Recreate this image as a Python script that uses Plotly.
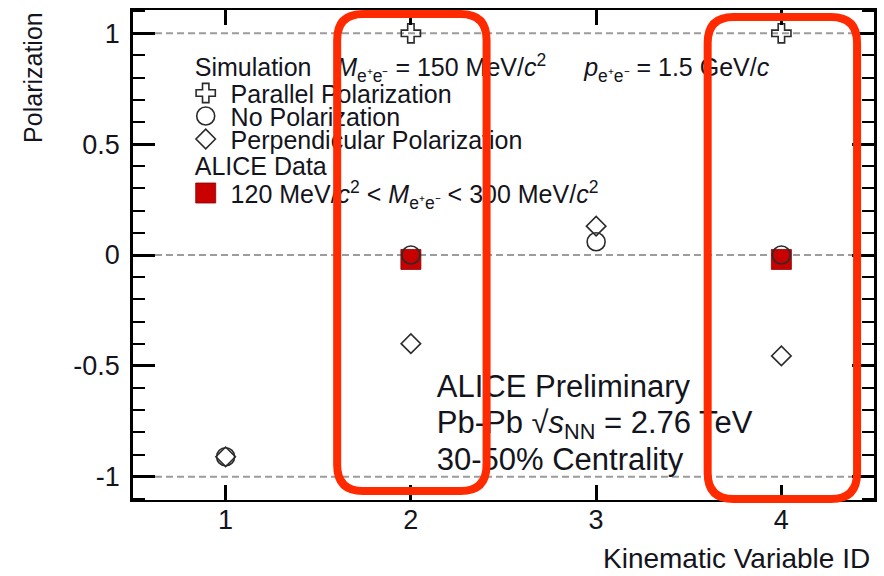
import plotly.graph_objects as go

# ---- data -------------------------------------------------------------
kin_ids = [1, 2, 3, 4]
parallel_pol = [None, 1.0, None, 1.0]
no_pol = [-0.91, 0.0, 0.06, 0.0]
perp_pol = [-0.91, -0.40, 0.13, -0.455]

alice_ids = [2, 4]
alice_pol = [-0.02, -0.02]

y_tick_vals = [-1, -0.5, 0, 0.5, 1]
y_tick_text = ["-1", "-0.5", "0", "0.5", "1"]
x_tick_vals = [1, 2, 3, 4]
x_tick_text = ["1", "2", "3", "4"]

highlighted_ids = [2, 4]

# ---- geometry / style ---------------------------------------------------
W_FIG, H_FIG = 884, 576
L, R, T, B = 133, 7, 10, 76
PW, PH = W_FIG - L - R, H_FIG - T - B
X_RANGE = [0.5, 4.5]
Y_RANGE = [-1.105, 1.105]

FONT = "Liberation Sans, Arial, Helvetica, sans-serif"
INK = "#14141c"
MARK = "#2b2b2b"
RED = "#c80000"
BOX_RED = "#ff2a00"


def px_x(p):
    return (p - L) / PW


def px_y(p):
    return 1 - (p - T) / PH


def data_x_to_px(x):
    return L + (x - X_RANGE[0]) / (X_RANGE[1] - X_RANGE[0]) * PW


def rounded_rect_path(x0, y0, x1, y1, r):
    """Rounded rectangle given in pixels, returned as a paper-coordinate path."""
    pts = [
        ("M", [(x0 + r, y0)]),
        ("L", [(x1 - r, y0)]),
        ("Q", [(x1, y0), (x1, y0 + r)]),
        ("L", [(x1, y1 - r)]),
        ("Q", [(x1, y1), (x1 - r, y1)]),
        ("L", [(x0 + r, y1)]),
        ("Q", [(x0, y1), (x0, y1 - r)]),
        ("L", [(x0, y0 + r)]),
        ("Q", [(x0, y0), (x0 + r, y0)]),
    ]
    out = []
    for cmd, ps in pts:
        out.append(cmd + " ".join(f"{px_x(a):.5f},{px_y(b):.5f}" for a, b in ps))
    return " ".join(out) + " Z"


fig = go.Figure()

# ---- data markers -------------------------------------------------------
fig.add_trace(go.Scatter(
    x=alice_ids, y=alice_pol, mode="markers", name="ALICE data",
    marker=dict(symbol="square", size=20, color=RED,
                line=dict(color="#8a0000", width=0.8)),
))
fig.add_trace(go.Scatter(
    x=kin_ids, y=parallel_pol, mode="markers", name="Parallel Polarization",
    marker=dict(symbol="cross-open", size=16, color=MARK, line=dict(color=MARK, width=1.6)),
))
fig.add_trace(go.Scatter(
    x=kin_ids, y=no_pol, mode="markers", name="No Polarization",
    marker=dict(symbol="circle-open", size=18, color=MARK, line=dict(color=MARK, width=1.6)),
))
fig.add_trace(go.Scatter(
    x=kin_ids, y=perp_pol, mode="markers", name="Perpendicular Polarization",
    marker=dict(symbol="diamond-open", size=15, color=MARK, line=dict(color=MARK, width=1.6)),
))

# ---- legend keys (overlay axes spanning the plot area as 0..1) ----------
key_x = px_x(206)
key_rows = [
    (93, "cross-open", 16, MARK, None),
    (116, "circle-open", 18, MARK, None),
    (139, "diamond-open", 15, MARK, None),
    (193, "square", 20, RED, "#8a0000"),
]
for ypx, sym, size, col, edge in key_rows:
    fig.add_trace(go.Scatter(
        x=[key_x], y=[px_y(ypx)], xaxis="x2", yaxis="y2", mode="markers",
        marker=dict(symbol=sym, size=size, color=col,
                    line=dict(color=edge or col, width=1.6 if edge is None else 0.8)),
        hoverinfo="skip",
    ))


# ---- in-plot text, drawn as text traces so the highlight boxes sit on top
TEXT_SHIFT = 4  # text baseline tweak, in pixels


def plot_text(text, xpx, ypx, size):
    fig.add_trace(go.Scatter(
        x=[px_x(xpx)], y=[px_y(ypx + TEXT_SHIFT)], xaxis="x2", yaxis="y2", mode="text",
        text=[text], textposition="middle right",
        textfont=dict(family=FONT, size=size, color=INK),
        hoverinfo="skip", cliponaxis=False,
    ))


LEG = 25
plot_text("Simulation", 195, 66, LEG)
plot_text("<i>M</i><sub>e⁺e⁻</sub> = 150 MeV/<i>c</i><sup>2</sup>", 337, 66, LEG)
plot_text("<i>p</i><sub>e⁺e⁻</sub> = 1.5 GeV/<i>c</i>", 586, 66, LEG)
plot_text("Parallel Polarization", 231, 93, LEG)
plot_text("No Polarization", 231, 116, LEG)
plot_text("Perpendicular Polarization", 231, 139, LEG)
plot_text("ALICE Data", 195, 165, LEG)
plot_text("120 MeV/<i>c</i><sup>2</sup> &lt; <i>M</i><sub>e⁺e⁻</sub> &lt; 300 MeV/<i>c</i><sup>2</sup>",
          231, 193, LEG)

plot_text("ALICE Preliminary", 438, 385, 31)
plot_text("Pb-Pb √<i>s</i><sub>NN</sub> = 2.76 TeV", 438, 421, 31)
plot_text("30-50% Centrality", 438, 458, 31)


# ---- axis titles ---------------------------------------------------------
def label(text, xpx, ypx, size, xanchor="left", yanchor="middle", angle=0):
    fig.add_annotation(
        text=text, xref="paper", yref="paper", x=px_x(xpx), y=px_y(ypx),
        xanchor=xanchor, yanchor=yanchor, showarrow=False, textangle=angle,
        font=dict(family=FONT, size=size, color=INK),
    )


label("Kinematic Variable ID", 875, H_FIG, 28, xanchor="right", yanchor="bottom")
label("Polarization", 32, T, 25, xanchor="center", yanchor="top", angle=-90)

# ---- reference lines at -1, 0, 1 ---------------------------------------
for v in (-1, 0, 1):
    fig.add_shape(type="line", xref="paper", x0=0, x1=1, yref="y", y0=v, y1=v,
                  line=dict(color="#9c9c9c", width=2, dash="7px,4px"), layer="below")

# ---- highlight boxes around selected variables -------------------------
box_half_w = 75
box_y = {2: (14, 491), 4: (17, 499)}
for k in highlighted_ids:
    cx = data_x_to_px(k) + 1
    y0, y1 = box_y[k]
    fig.add_shape(type="path", xref="paper", yref="paper",
                  path=rounded_rect_path(cx - box_half_w, y0, cx + box_half_w, y1, 26),
                  line=dict(color=BOX_RED, width=8), fillcolor="rgba(0,0,0,0)",
                  layer="above")

# ---- axes ----------------------------------------------------------------
fig.update_layout(
    width=W_FIG, height=H_FIG, autosize=False,
    margin=dict(l=L, r=R, t=T, b=B, pad=0),
    paper_bgcolor="white", plot_bgcolor="white",
    showlegend=False,
    font=dict(family=FONT, color=INK),
    xaxis=dict(
        range=X_RANGE, tickvals=x_tick_vals, ticktext=x_tick_text,
        ticks="inside", ticklen=15, tickwidth=2.5, tickcolor="black",
        showline=True, linewidth=2, linecolor="black", mirror="ticks",
        showgrid=False, zeroline=False,
        tickfont=dict(family=FONT, size=27, color=INK), ticklabelstandoff=-5,
    ),
    yaxis=dict(
        range=Y_RANGE, tickvals=y_tick_vals, ticktext=y_tick_text,
        ticks="inside", ticklen=22, tickwidth=2.5, tickcolor="black",
        showline=True, linewidth=2.5, linecolor="black", mirror="ticks",
        showgrid=False, zeroline=False,
        minor=dict(dtick=0.1, ticks="inside", ticklen=12, tickwidth=2,
                   tickcolor="black", showgrid=False),
        tickfont=dict(family=FONT, size=27, color=INK), ticklabelstandoff=5,
    ),
    xaxis2=dict(overlaying="x", range=[0, 1], visible=False, fixedrange=True),
    yaxis2=dict(overlaying="y", range=[0, 1], visible=False, fixedrange=True),
)

fig.write_html("out.html")
